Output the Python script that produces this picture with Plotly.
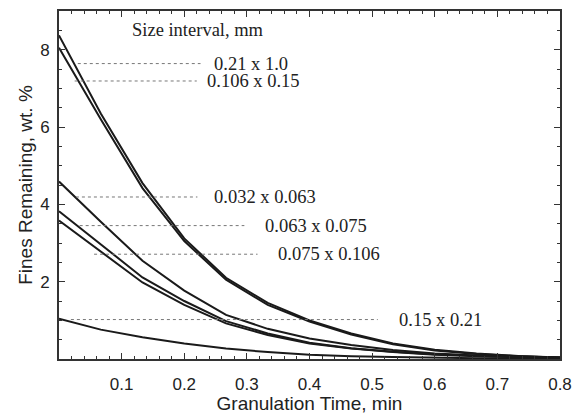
import plotly.graph_objects as go

# Granulation time (min)
time_min = [0, 0.0667, 0.1333, 0.2, 0.2667, 0.3333, 0.4, 0.4667, 0.5333, 0.6, 0.6667, 0.7333, 0.8]

# Fines remaining (wt. %) per size interval
s_021_10 = [8.37, 6.35, 4.55, 3.12, 2.10, 1.45, 1.00, 0.66, 0.40, 0.24, 0.14, 0.08, 0.04]
s_0106_015 = [8.05, 6.20, 4.42, 3.05, 2.05, 1.40, 0.97, 0.63, 0.38, 0.22, 0.13, 0.07, 0.04]
s_0032_0063 = [4.59, 3.55, 2.54, 1.77, 1.14, 0.78, 0.53, 0.36, 0.23, 0.14, 0.09, 0.06, 0.04]
s_0063_0075 = [3.82, 2.96, 2.11, 1.50, 0.98, 0.66, 0.42, 0.28, 0.19, 0.12, 0.08, 0.05, 0.03]
s_0075_0106 = [3.58, 2.78, 1.98, 1.40, 0.92, 0.62, 0.40, 0.27, 0.18, 0.11, 0.07, 0.05, 0.03]
s_015_021 = [1.04, 0.76, 0.56, 0.40, 0.27, 0.18, 0.11, 0.07, 0.05, 0.03, 0.02, 0.02, 0.01]

series = [s_021_10, s_0106_015, s_0032_0063, s_0063_0075, s_0075_0106, s_015_021]
labels = ["0.21 x 1.0", "0.106 x 0.15", "0.032 x 0.063", "0.063 x 0.075", "0.075 x 0.106", "0.15 x 0.21"]

x_ticks = [0.1, 0.2, 0.3, 0.4, 0.5, 0.6, 0.7, 0.8]
x_ticktext = ["0.1", "0.2", "0.3", "0.4", "0.5", "0.6", "0.7", "0.8"]
y_ticks = [2, 4, 6, 8]
y_ticktext = ["2", "4", "6", "8"]

# label placement: (leader start x, leader end x, y, text x)
label_pos = [
    (0.030, 0.226, 7.64, 0.245),
    (0.025, 0.220, 7.19, 0.233),
    (0.027, 0.221, 4.19, 0.245),
    (0.033, 0.296, 3.45, 0.325),
    (0.056, 0.317, 2.71, 0.346),
    (0.019, 0.509, 1.02, 0.539),
]

fig = go.Figure()
for ys, name in zip(series, labels):
    fig.add_trace(go.Scatter(x=time_min, y=ys, mode="lines", name=name,
                             line=dict(color="#1a1a1a", width=2), showlegend=False))

serif = "Liberation Serif, Times New Roman, serif"
for (x0, x1, yy, tx), name in zip(label_pos, labels):
    fig.add_shape(type="line", xref="x", yref="y", x0=x0, x1=x1, y0=yy, y1=yy,
                  line=dict(color="#777777", width=1, dash="dot"))
    fig.add_annotation(x=tx, y=yy, xref="x", yref="y", text=name, showarrow=False,
                       xanchor="left", yanchor="middle",
                       font=dict(family=serif, size=18.5, color="#222222"))

fig.add_annotation(x=0.1126, y=8.5, xref="x", yref="y", text="Size interval, mm",
                   showarrow=False, xanchor="left", yanchor="middle",
                   font=dict(family=serif, size=18.5, color="#222222"))

sans = "Liberation Sans, Arial, sans-serif"
axis_common = dict(showline=True, linecolor="#333333", linewidth=2, mirror="allticks",
                   ticks="inside", ticklen=6, tickwidth=1, tickcolor="#333333",
                   showgrid=False, zeroline=False,
                   tickfont=dict(family=sans, size=17, color="#222222"))

fig.update_xaxes(range=[0, 0.8], tickmode="array", tickvals=x_ticks, ticktext=x_ticktext,
                 minor=dict(dtick=0.02, tick0=0, ticks="inside", ticklen=3, tickcolor="#333333"),
                 ticklabelstandoff=9,
                 title=dict(text="Granulation Time, min", font=dict(family=sans, size=19, color="#222222"), standoff=4),
                 **axis_common)
fig.update_yaxes(range=[0, 9], tickmode="array", tickvals=y_ticks, ticktext=y_ticktext,
                 minor=dict(dtick=0.5, tick0=0, ticks="inside", ticklen=3, tickcolor="#333333"),
                 ticklabelstandoff=4,
                 title=dict(text="Fines Remaining, wt. %", font=dict(family=sans, size=19, color="#222222"), standoff=2),
                 **axis_common)

# page body adds an 8px offset; size the figure so the plot area lands where the reference has it
fig.update_layout(width=579, height=406, margin=dict(l=51, r=27, t=1, b=55),
                  plot_bgcolor="white", paper_bgcolor="white")

fig.write_html("out.html")
